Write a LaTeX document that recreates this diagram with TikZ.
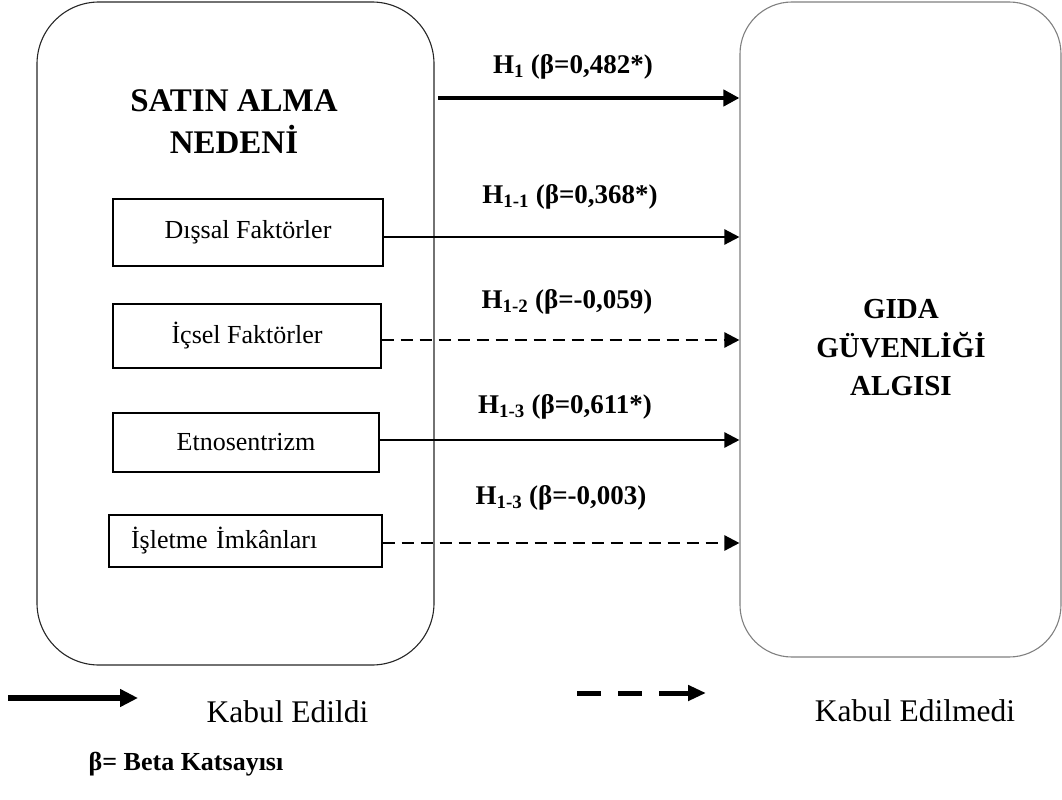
\documentclass[tikz,border=0pt]{standalone}
\usepackage{fontspec}
\setmainfont{Liberation Serif}
\usetikzlibrary{arrows.meta,positioning}
\newcommand{\fsz}[2]{\fontsize{#1bp}{#2bp}\selectfont}

\begin{document}
\begin{tikzpicture}[x=1bp,y=-1bp,
  bigbox/.style={draw=black!85,line width=1.1bp},
  factor/.style={draw,line width=1.1bp,font=\fsz{26}{30},inner sep=0pt},
  hyp/.style={font=\bfseries\fsz{27}{30}},
  tip/.style={-{Triangle[length=15bp,width=15bp]}},
  ok/.style={tip,line width=2.4bp},
  notok/.style={tip,line width=2.4bp,dash pattern=on 12bp off 7bp}]
  \useasboundingbox (0,0) rectangle (1062,800);
  \node[bigbox,rounded corners=62bp,minimum width=397bp,minimum height=663bp] (satin) at (235.5,333.5) {};
  \node[bigbox,draw=gray,rounded corners=52bp,minimum width=321bp,minimum height=655bp] (gida) at (900.5,329.5) {};
  \node[font=\bfseries\fsz{33}{42},align=center] (satinlab) at (234,122) {SATIN ALMA\\NEDENİ};
  \node[font=\bfseries\fsz{29}{38.5},align=center] (gidalab) at (901,348) {GIDA\\GÜVENLİĞİ\\ALGISI};
  \node[factor,minimum width=270bp,minimum height=67bp] (dissal) at (248,232.5) {Dışsal Faktörler};
  \node[factor,minimum width=268bp,minimum height=64bp] (icsel) at (247,336) {İçsel Faktörler};
  \node[factor,minimum width=266bp,minimum height=59bp] (etno) at (246,442.5) {Etnosentrizm};
  \node[factor,minimum width=273bp,minimum height=52bp,text width=229bp,inner xsep=22bp,align=left] (isletme) at (245.5,541) {İşletme İmkânları};
  \coordinate (h1) at (438,98);
  \draw[line width=4.5bp,-{Triangle[length=16bp,width=16bp]}] (h1) -- (h1 -| gida.west);
  \foreach \src/\sty/\dy in {dissal/ok/-4.5bp,icsel/notok/-4bp,etno/ok/2.5bp,isletme/notok/-2bp}{
    \coordinate (\src-o) at ([yshift=\dy]\src.east); % 箭头稍微偏离框中心
    \draw[\sty] (\src-o) -- (\src-o -| gida.west);
  }
  \node[hyp] (h1lab) at (573,67) {H\textsubscript{1} (β=0,482*)};
  \node[hyp] (h11lab) at (570,197) {H\textsubscript{1-1} (β=0,368*)};
  \node[hyp] (h12lab) at (567,302) {H\textsubscript{1-2} (β=-0,059)};
  \node[hyp] (h13lab) at (565,407) {H\textsubscript{1-3} (β=0,611*)};
  \node[hyp] (h14lab) at (561,498) {H\textsubscript{1-3} (β=-0,003)};
  % 图例
  \coordinate (ka) at (8,698);
  \coordinate (kb) at (138,698);
  \draw[line width=6bp,-{Triangle[length=18bp,width=17bp]}] (ka) -- (kb);
  \node[font=\fsz{31.5}{36}] (kabul) at (287.5,712) {Kabul Edildi};
  \coordinate (ra) at (577,693);
  \coordinate (rb) at (706,693);
  \draw[line width=5bp,dash pattern=on 24bp off 17bp on 24bp off 17bp on 40bp off 1bp,-{Triangle[length=18bp,width=15bp]}] (ra) -- (rb);
  \node[font=\fsz{31.5}{36}] (ret) at (915,711) {Kabul Edilmedi};
  \node[font=\bfseries\fsz{26}{30}] (beta) at (186,764) {β= Beta Katsayısı};
\end{tikzpicture}
\end{document}
